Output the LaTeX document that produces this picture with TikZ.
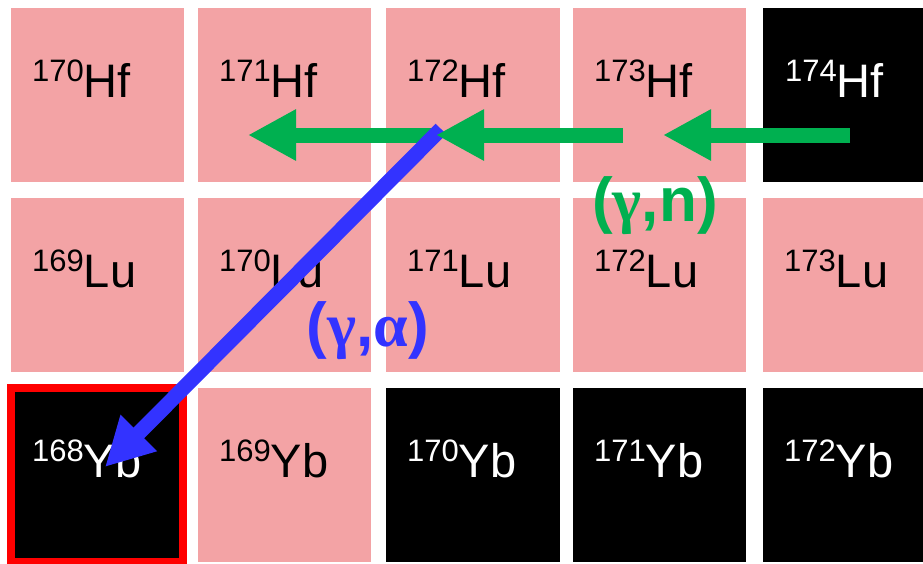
\documentclass[tikz,border=0pt]{standalone}
\usepackage{fontspec}
\setmainfont{Liberation Sans}
\newfontfamily\grk{Liberation Serif}
\usetikzlibrary{arrows.meta}
\definecolor{pinkc}{RGB}{243,163,165}
\definecolor{greenc}{RGB}{0,176,80}
\definecolor{bluec}{RGB}{51,51,255}
\definecolor{redc}{RGB}{255,0,0}
\newcommand{\iso}[2]{\raisebox{16pt}{\fontsize{31}{31}\selectfont #1}\fontsize{47}{47}\selectfont #2}
\tikzset{
  lbl/.style={anchor=base west, inner sep=0pt, text=black},
  lblw/.style={anchor=base west, inner sep=0pt, text=white},
  garrow/.style={draw=greenc, line width=15pt, -{Triangle[length=48pt,width=48pt]}},
  barrow/.style={draw=bluec, line width=15pt, -{Triangle[length=48pt,width=48pt]}},
  rlabel/.style={font=\bfseries\fontsize{62}{62}\selectfont, inner sep=0pt}
}
\begin{document}
\begin{tikzpicture}[x=1pt,y=-1pt]
\useasboundingbox (0,0) rectangle (923,563);
\fill[white] (0,0) rectangle (923,563);
% row 1
\fill[pinkc] (11,8) rectangle (184,182);
\fill[pinkc] (198,8) rectangle (371,182);
\fill[pinkc] (386,8) rectangle (560,182);
\fill[pinkc] (573,8) rectangle (746,182);
\fill[black] (763,8) rectangle (936,182);
% row 2
\fill[pinkc] (11,198) rectangle (184,372);
\fill[pinkc] (198,198) rectangle (371,372);
\fill[pinkc] (386,198) rectangle (560,372);
\fill[pinkc] (573,198) rectangle (746,372);
\fill[pinkc] (763,198) rectangle (936,372);
% row 3
\fill[black] (11,388) rectangle (184,562);
\fill[pinkc] (198,388) rectangle (371,562);
\fill[black] (386,388) rectangle (560,562);
\fill[black] (573,388) rectangle (746,562);
\fill[black] (763,388) rectangle (936,562);
\draw[redc, line width=8pt] (11,388) rectangle (183,562);
% labels
\node[lbl]  (hf170) at (32,97)  {\iso{170}{Hf}};
\node[lbl]  (hf171) at (219,97) {\iso{171}{Hf}};
\node[lbl]  (hf172) at (407,97) {\iso{172}{Hf}};
\node[lbl]  (hf173) at (594,97) {\iso{173}{Hf}};
\node[lblw] (hf174) at (785,97) {\iso{174}{Hf}};
\node[lbl]  (lu169) at (32,287)  {\iso{169}{Lu}};
\node[lbl]  (lu170) at (219,287) {\iso{170}{Lu}};
\node[lbl]  (lu171) at (407,287) {\iso{171}{Lu}};
\node[lbl]  (lu172) at (594,287) {\iso{172}{Lu}};
\node[lbl]  (lu173) at (784,287) {\iso{173}{Lu}};
\node[lblw] (yb168) at (32,477)  {\iso{168}{Yb}};
\node[lbl]  (yb169) at (219,477) {\iso{169}{Yb}};
\node[lblw] (yb170) at (407,477) {\iso{170}{Yb}};
\node[lblw] (yb171) at (594,477) {\iso{171}{Yb}};
\node[lblw] (yb172) at (784,477) {\iso{172}{Yb}};
% arrow coordinates
\coordinate (gA0) at (850,135);
\coordinate (gA1) at (663,135);
\coordinate (gB0) at (623,135);
\coordinate (gB1) at (436,135);
\coordinate (gC1) at (248,135);
\coordinate (b0) at (441,129);
\coordinate (b1) at (105,467);
\draw[garrow] (gB1) -- (gC1);
\draw[barrow] (b0) -- (b1);
\draw[garrow] (gB0) -- (gB1);
\draw[garrow] (gA0) -- (gA1);
\node[rlabel, text=greenc] (gn) at (655,206) {({\grk γ},n)};
\node[rlabel, text=bluec] (ga) at (368,331) {({\grk γ},{\grk α})};
\end{tikzpicture}
\end{document}
